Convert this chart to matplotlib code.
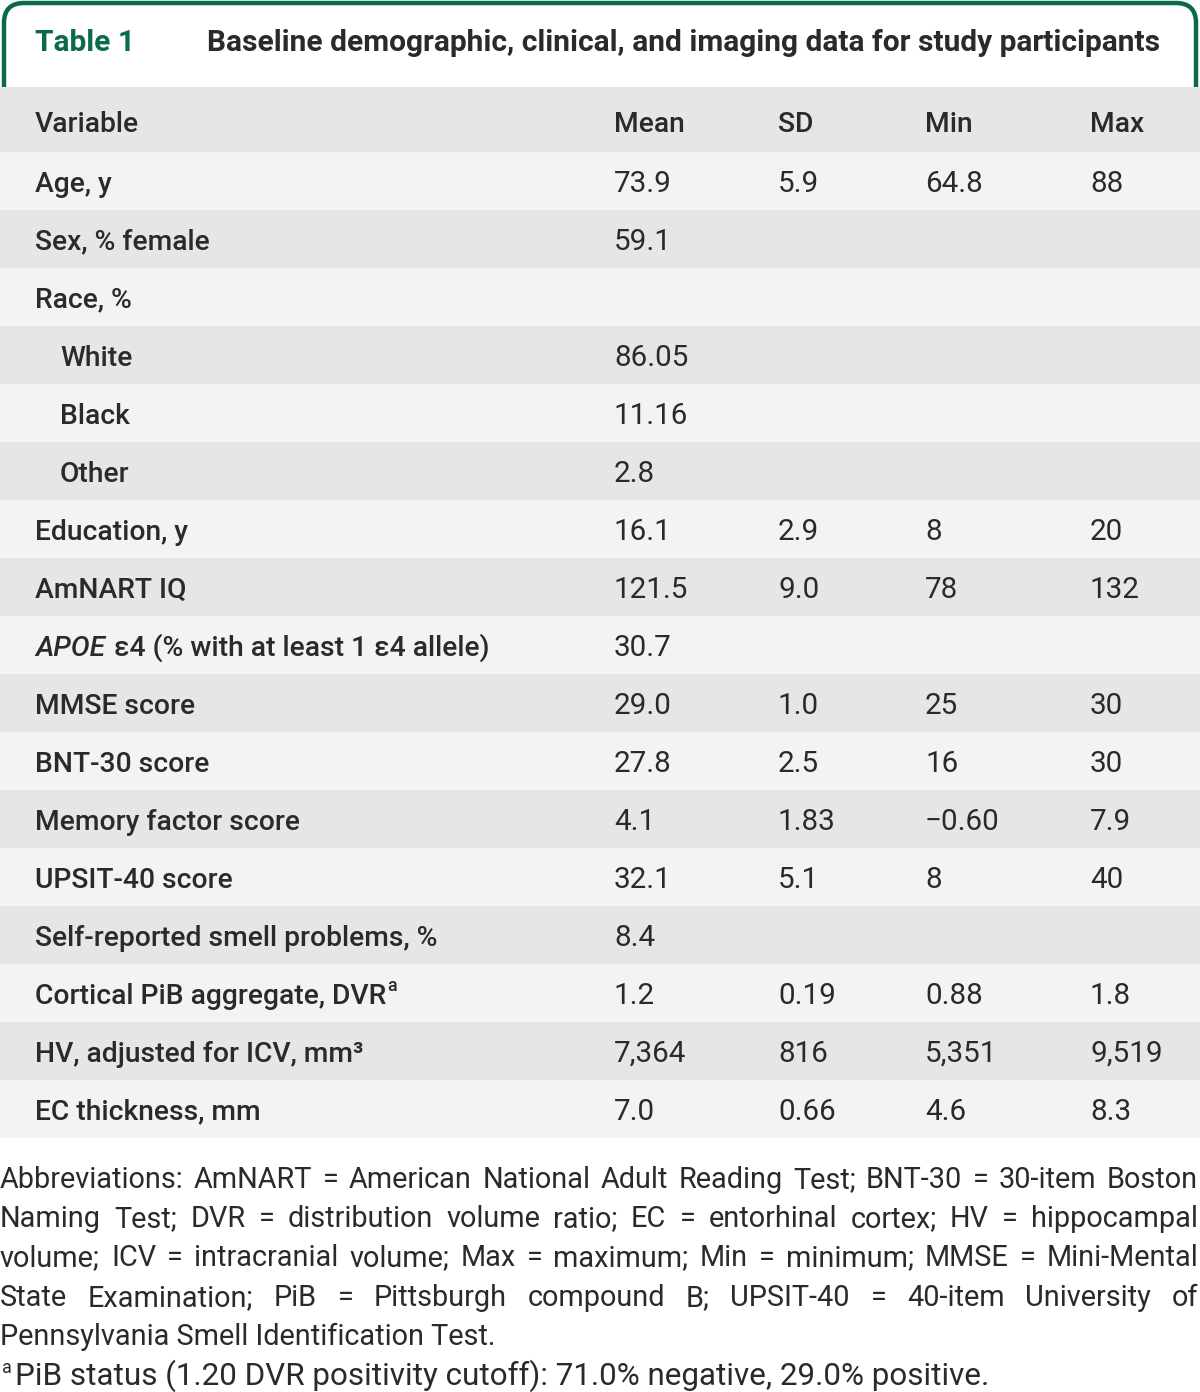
import matplotlib.pyplot as plt
from matplotlib.patches import Rectangle, FancyBboxPatch

# table data
variables = ['Age, y', 'Sex, % female', 'Race, %', 'White', 'Black', 'Other',
             'Education, y', 'AmNART IQ', 'APOE', 'MMSE score', 'BNT-30 score',
             'Memory factor score', 'UPSIT-40 score', 'Self-reported smell problems, %',
             'Cortical PiB aggregate, DVR', 'HV, adjusted for ICV, mm³', 'EC thickness, mm']
indented = ['White', 'Black', 'Other']
means = ['73.9', '59.1', '', '86.05', '11.16', '2.8', '16.1', '121.5', '30.7',
         '29.0', '27.8', '4.1', '32.1', '8.4', '1.2', '7,364', '7.0']
sds = ['5.9', '', '', '', '', '', '2.9', '9.0', '', '1.0', '2.5', '1.83', '5.1', '',
       '0.19', '816', '0.66']
mins = ['64.8', '', '', '', '', '', '8', '78', '', '25', '16', '\u22120.60', '8', '',
        '0.88', '5,351', '4.6']
maxs = ['88', '', '', '', '', '', '20', '132', '', '30', '30', '7.9', '40', '',
        '1.8', '9,519', '8.3']
columns = ['Variable', 'Mean', 'SD', 'Min', 'Max']

title_label = 'Table 1'
title_text = 'Baseline demographic, clinical, and imaging data for study participants'

note_lines = [
    'Abbreviations: AmNART = American National Adult Reading Test; BNT-30 = 30-item Boston',
    'Naming Test; DVR = distribution volume ratio; EC = entorhinal cortex; HV = hippocampal',
    'volume; ICV = intracranial volume; Max = maximum; Min = minimum; MMSE = Mini-Mental',
    'State Examination; PiB = Pittsburgh compound B; UPSIT-40 = 40-item University of',
    'Pennsylvania Smell Identification Test.',
]
note_a = 'PiB status (1.20 DVR positivity cutoff): 71.0% negative, 29.0% positive.'

# layout / style
W, H = 1200, 1392
green = '#0b6b47'
txt = '#2a2a2a'
grey = '#e6e6e6'
light = '#f2f3f3'
col_x = [35, 614, 778, 925, 1090]
head_top, head_h, row_h = 87, 65, 58
fs = 20.3      # labels
nfs_num = 21.3  # numbers
dy = 3
fam = 'Roboto'

fig = plt.figure(figsize=(W / 100, H / 100), dpi=100)
ax = fig.add_axes([0, 0, 1, 1])
ax.set_xlim(0, W)
ax.set_ylim(H, 0)
ax.axis('off')
r = fig.canvas.get_renderer()


def width(t):
    bb = t.get_window_extent(renderer=r)
    return bb.width


# title box with rounded top corners
box = FancyBboxPatch((4, 3), W - 8, 160, boxstyle='round,pad=0,rounding_size=20',
                     fc='white', ec=green, lw=3.2, zorder=1)
ax.add_patch(box)
ax.text(35, 43, title_label, color=green, fontsize=21.5, fontweight='bold',
        family=fam, va='center', zorder=3)
ax.text(207, 43, title_text, color=txt, fontsize=21.5, fontweight='bold',
        family=fam, va='center', zorder=3)

# header row
ax.add_patch(Rectangle((0, head_top), W, head_h, fc=grey, ec='none', zorder=2))
for x, c in zip(col_x, columns):
    ax.text(x, head_top + head_h / 2 + dy + 2, c, fontsize=fs, fontweight='medium',
            family=fam, color=txt, va='center', zorder=3)

# body rows
for i, v in enumerate(variables):
    top = head_top + head_h + i * row_h
    yc = top + row_h / 2 + dy
    ax.add_patch(Rectangle((0, top), W, row_h, fc=light if i % 2 == 0 else grey,
                           ec='none', zorder=2))
    x0 = 60 if v in indented else 35
    kw = dict(fontsize=fs, fontweight='medium', family=fam, color=txt, va='center', zorder=3)
    if v == 'APOE':
        t = ax.text(x0, yc, 'APOE', style='italic', **kw)
        ax.text(x0 + width(t) + 2, yc, ' \u03b54 (% with at least 1 \u03b54 allele)', **kw)
    elif v.endswith('DVR'):
        t = ax.text(x0, yc, v, **kw)
        ax.text(x0 + width(t) + 1, yc - 10, 'a', fontsize=13, fontweight='medium',
                family=fam, color=txt, va='center', zorder=3)
    else:
        ax.text(x0, yc, v, **kw)
    for x, val in zip(col_x[1:], [means[i], sds[i], mins[i], maxs[i]]):
        ax.text(x, yc, val, fontsize=nfs_num, family=fam, color=txt, va='center', zorder=3)

# footnotes, justified
nfs = 20.8
ny0, nstep = 1180, 39.2
for j, line in enumerate(note_lines):
    y = ny0 + j * nstep
    words = line.split(' ')
    if j < len(note_lines) - 1:
        ts = [ax.text(0, y, w, fontsize=nfs, family=fam, color=txt, va='center') for w in words]
        ws = [width(t) for t in ts]
        gap = (W - 2 - sum(ws)) / (len(ws) - 1)
        x = 0
        for t, w in zip(ts, ws):
            t.set_x(x)
            x += w + gap
    else:
        ax.text(0, y, line, fontsize=nfs, family=fam, color=txt, va='center')

y = ny0 + len(note_lines) * nstep
ta = ax.text(2, y - 8, 'a', fontsize=13, family=fam, color=txt, va='center')
ax.text(2 + width(ta) + 3, y, note_a, fontsize=nfs + 1.8, family=fam, color=txt, va='center')

fig.savefig('out.png', dpi=100)
